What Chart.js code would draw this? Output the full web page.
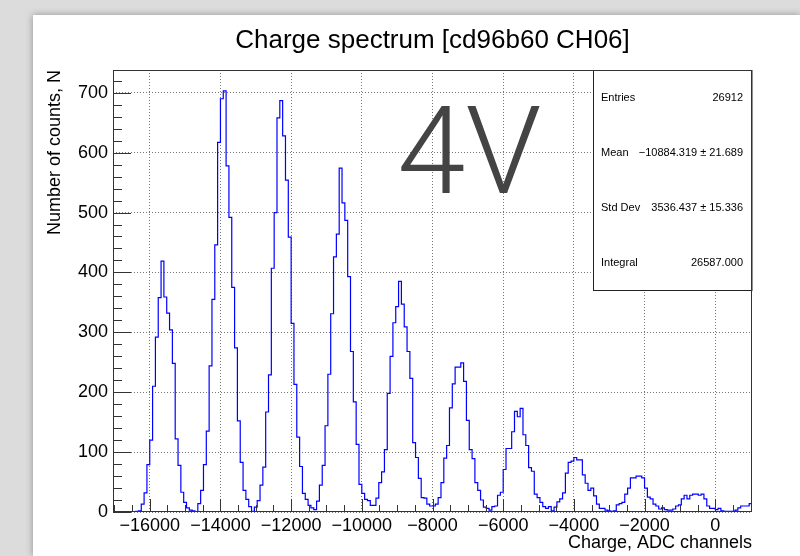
<!DOCTYPE html>
<html>
<head>
<meta charset="utf-8">
<script src="https://cdn.jsdelivr.net/npm/chart.js@4.4.1/dist/chart.umd.min.js"></script>
<style>
  html, body { margin: 0; padding: 0; }
  body { width: 800px; height: 556px; background: #dcdcdc; position: relative; overflow: hidden; }
  #pad { position: absolute; left: 33px; top: 15px; width: 767px; height: 541px; background: #fff;
         box-shadow: 0 0 7px rgba(0,0,0,0.35); }
  #c { position: absolute; left: 0; top: 0; }
</style>
</head>
<body>
<div id="pad"></div>
<canvas id="c" width="800" height="556"></canvas>
<script>
// Histogram binning: 226 bins of 80 ADC channels starting at -17040
const binLow = -17040;
const binWidth = 80;
const counts = [
  0, 0, 0, 0, 0, 0, 0, 0, 1, 2,
  13, 32, 79, 120, 210, 292, 358, 419, 359, 332,
  304, 248, 122, 78, 33, 16, 7, 3, 2, 0,
  14, 36, 79, 135, 244, 355, 446, 617, 690, 703,
  578, 492, 375, 274, 152, 83, 36, 21, 9, 1,
  8, 19, 45, 75, 167, 229, 407, 500, 658, 687,
  628, 554, 459, 315, 213, 125, 76, 31, 21, 11,
  7, 4, 18, 45, 78, 144, 230, 331, 426, 464,
  574, 516, 487, 393, 268, 184, 113, 46, 31, 21,
  19, 11, 11, 23, 49, 67, 104, 198, 260, 316,
  343, 385, 347, 309, 268, 223, 116, 91, 56, 24,
  23, 13, 10, 10, 13, 24, 49, 90, 111, 174,
  214, 242, 242, 249, 218, 153, 104, 89, 49, 36,
  20, 8, 6, 3, 9, 10, 28, 33, 71, 106,
  106, 134, 168, 159, 173, 129, 111, 74, 68, 30,
  24, 16, 9, 6, 9, 2, 8, 17, 22, 32,
  65, 83, 85, 91, 87, 87, 62, 48, 36, 40,
  27, 13, 6, 6, 3, 2, 1, 2, 12, 14,
  16, 30, 40, 57, 57, 60, 60, 57, 40, 25,
  22, 13, 10, 5, 7, 4, 3, 3, 5, 10,
  12, 22, 28, 22, 28, 30, 30, 28, 30, 22,
  10, 6, 6, 4, 6, 2, 1, 1, 1, 1,
  3, 7, 10, 10, 10, 14
];

// Axis ranges and ticks
const xMin = -17040, xMax = 1040;
const yMin = 0, yMax = 738;
const xMajorTicks = [-16000, -14000, -12000, -10000, -8000, -6000, -4000, -2000, 0];
const xMinorStep = 500;
const yMajorTicks = [0, 100, 200, 300, 400, 500, 600, 700];
const yMinorStep = 20;

// Text
const titleText = 'Charge spectrum [cd96b60 CH06]';
const xTitle = 'Charge, ADC channels';
const yTitle = 'Number of counts, N';
const statsRows = [
  ['Entries', '26912'],
  ['Mean', '\u221210884.319 \u00b1 21.689'],
  ['Std Dev', '3536.437 \u00b1 15.336'],
  ['Integral', '26587.000']
];
const voltageLabel = '4V';

const FONT = '"Liberation Sans", Arial, Helvetica, sans-serif';
Chart.defaults.font.family = FONT;
Chart.defaults.color = '#000';

const fmt = v => (v < 0 ? '\u2212' + Math.abs(v) : String(v));

// Step outline points: each bin's lower edge, plus the closing upper edge
const points = counts.map((c, i) => ({ x: binLow + i * binWidth, y: c }));
points.push({ x: binLow + counts.length * binWidth, y: counts[counts.length - 1] });

const framePlugin = {
  id: 'frame',
  afterDatasetsDraw(chart) {
    const { ctx, chartArea: a, scales: { x, y } } = chart;
    ctx.save();
    // inner tick marks
    ctx.strokeStyle = '#333';
    ctx.lineWidth = 1;
    ctx.beginPath();
    for (let v = yMin; v <= yMax; v += yMinorStep) {
      const py = Math.round(y.getPixelForValue(v)) + 0.5;
      const len = yMajorTicks.includes(v) ? 18 : 9;
      ctx.moveTo(a.left, py); ctx.lineTo(a.left + len, py);
    }
    for (let v = -17000; v <= xMax; v += xMinorStep) {
      const px = Math.round(x.getPixelForValue(v)) + 0.5;
      const len = xMajorTicks.includes(v) ? 13 : 7;
      ctx.moveTo(px, a.bottom); ctx.lineTo(px, a.bottom - len);
    }
    ctx.stroke();

    // statistics box
    const bx = Math.round(x.getPixelForValue(-3472)) + 0.5;
    const by = a.top + 0.5;
    const bw = a.right - bx;
    const bh = Math.round(y.getPixelForValue(371)) + 0.5 - by;
    ctx.fillStyle = '#fff';
    ctx.fillRect(bx, by, bw, bh);
    ctx.strokeStyle = '#222';
    ctx.strokeRect(bx, by, bw, bh);
    ctx.fillStyle = '#000';
    ctx.font = '11px ' + FONT;
    ctx.textBaseline = 'middle';
    statsRows.forEach((r, i) => {
      const ty = by + bh * (i + 0.5) / statsRows.length;
      ctx.textAlign = 'left';
      ctx.fillText(r[0], bx + 7.5, ty);
      ctx.textAlign = 'right';
      ctx.fillText(r[1], bx + bw - 9, ty);
    });

    // frame
    ctx.strokeStyle = '#333';
    ctx.strokeRect(Math.round(a.left) + 0.5, Math.round(a.top) + 0.5,
                   Math.round(a.right - a.left) - 1, Math.round(a.bottom - a.top) - 1);
    ctx.restore();
  },
  afterDraw(chart) {
    const { ctx, scales: { x, y } } = chart;
    ctx.save();
    ctx.fillStyle = '#444';
    ctx.font = '300 123px Roboto, ' + FONT;
    ctx.textAlign = 'left';
    ctx.textBaseline = 'alphabetic';
    ctx.fillText(voltageLabel, x.getPixelForValue(-9000), y.getPixelForValue(532));
    ctx.restore();
  }
};

new Chart(document.getElementById('c'), {
  type: 'line',
  data: {
    datasets: [{
      data: points,
      stepped: true,
      borderColor: '#0000ff',
      borderWidth: 1.2,
      pointRadius: 0,
      fill: false
    }]
  },
  options: {
    responsive: false,
    animation: false,
    events: [],
    layout: { padding: { left: 0, right: 48, top: 0, bottom: 0 } },
    plugins: {
      legend: { display: false },
      tooltip: { enabled: false },
      title: {
        display: true,
        text: titleText,
        fullSize: false,
        color: '#000',
        font: { size: 26, weight: 'normal', family: FONT },
        padding: { top: 25, bottom: 13.8 }
      }
    },
    scales: {
      x: {
        type: 'linear',
        min: xMin,
        max: xMax,
        afterBuildTicks: s => { s.ticks = xMajorTicks.map(v => ({ value: v })); },
        afterFit: s => { s.height = 44; },
        ticks: { callback: v => fmt(v), font: { size: 18 }, color: '#000', padding: 3, maxRotation: 0, autoSkip: false },
        grid: { drawTicks: false, color: '#777', lineWidth: 1 },
        border: { display: false, dash: [1, 2] },
        title: { display: true, text: xTitle, align: 'end', color: '#000', font: { size: 18 }, padding: { top: 0, bottom: 2 } }
      },
      y: {
        type: 'linear',
        min: yMin,
        max: yMax,
        afterBuildTicks: s => { s.ticks = yMajorTicks.map(v => ({ value: v })); },
        afterFit: s => { s.width = 113; },
        ticks: { font: { size: 18 }, color: '#000', padding: 5, autoSkip: false },
        grid: { drawTicks: false, color: '#777', lineWidth: 1 },
        border: { display: false, dash: [1, 2] },
        title: { display: true, text: yTitle, align: 'end', color: '#000', font: { size: 18 }, padding: { top: 44, bottom: 0 } }
      }
    }
  },
  plugins: [framePlugin]
});
</script>
</body>
</html>
